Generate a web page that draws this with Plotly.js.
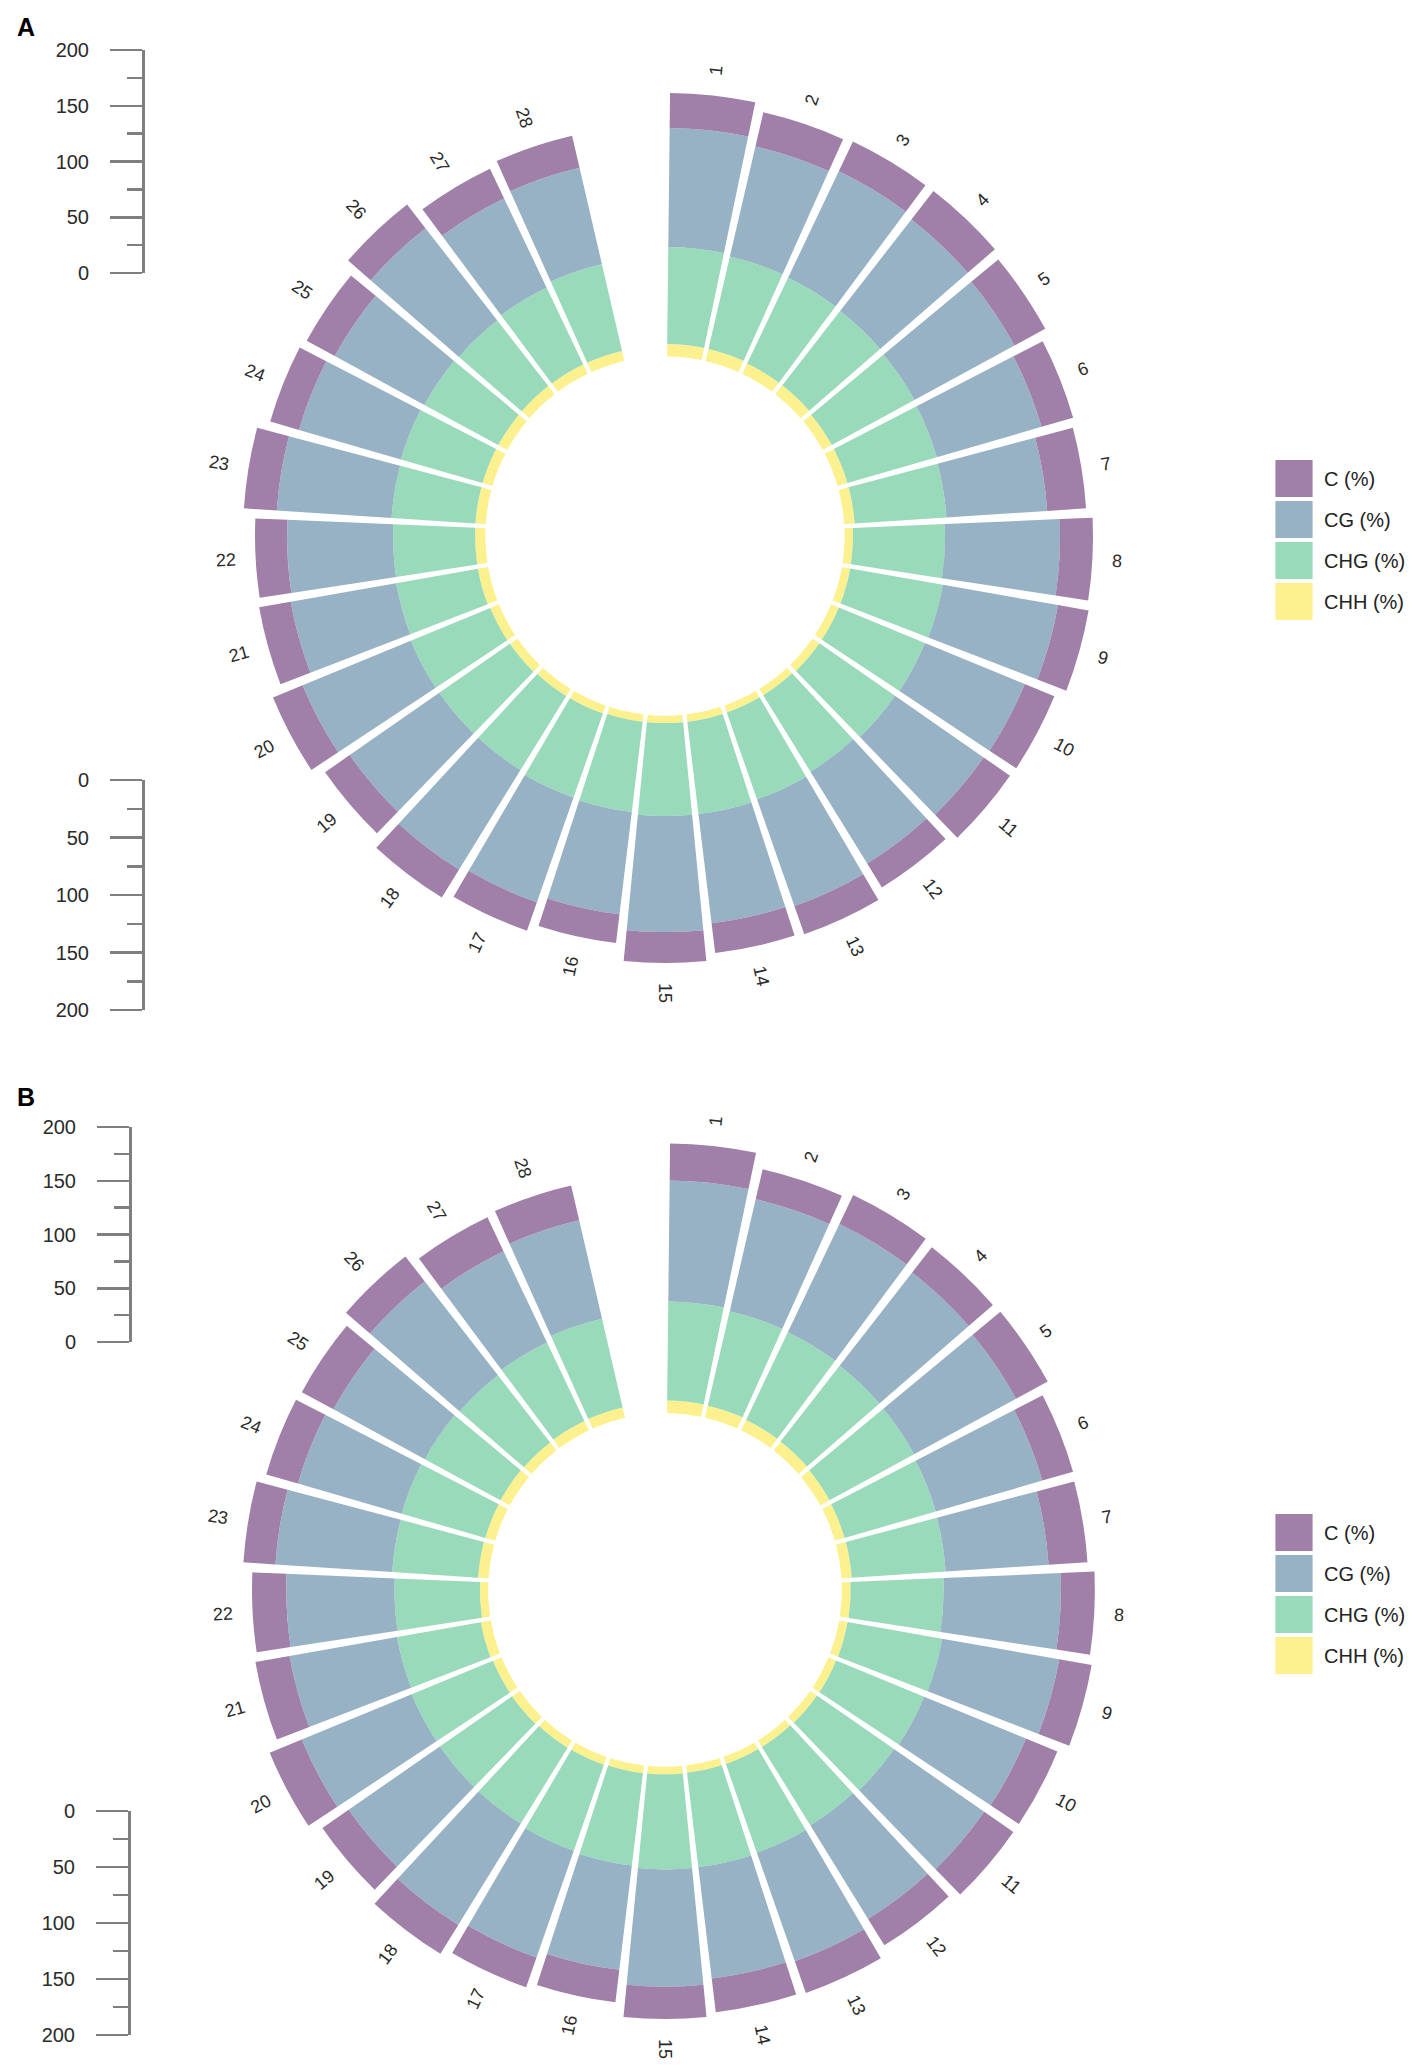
<!DOCTYPE html>
<html>
<head>
<meta charset="utf-8">
<script src="https://cdn.plot.ly/plotly-3.0.1.min.js"></script>
<style>
  html, body { margin: 0; padding: 0; background: #ffffff; }
  #chart { width: 1421px; height: 2067px; }
</style>
</head>
<body>
<div id="chart"></div>
<script>
// ---------------- data ----------------
const categories = ['1','2','3','4','5','6','7','8','9','10','11','12','13','14',
                    '15','16','17','18','19','20','21','22','23','24','25','26','27','28'];
const seriesNames = ['C (%)', 'CG (%)', 'CHG (%)', 'CHH (%)'];

// Panel A
const A_CHH = [11.0,11.0,10.1,10.1,9.2,9.2,9.2,7.5,7.5,7.5,7.5,6.6,6.6,6.6,6.6,6.6,7.5,7.5,8.3,8.3,9.2,9.2,9.2,9.2,9.2,9.2,9.2,9.2];
const A_CHG = [85.1,83.3,83.3,82.5,82.5,81.6,80.7,80.7,82.5,81.6,80.7,78.9,80.7,81.6,81.6,79.8,78.1,76.3,75.4,75.4,72.8,71.9,73.7,74.6,73.7,72.8,74.6,78.1];
const A_CG  = [104.4,99.1,103.5,101.8,100.0,95.6,88.6,100.9,102.6,94.7,94.7,94.7,99.1,96.5,101.8,90.4,97.4,102.6,95.6,102.6,93.9,93.0,100.9,93.0,89.5,102.6,86.8,86.8];
const A_C   = [30.7,30.7,28.9,31.6,30.7,28.9,34.2,28.9,27.2,28.1,28.1,24.6,26.3,26.3,27.2,25.4,26.3,28.9,26.3,28.1,28.1,28.1,28.9,26.3,28.1,26.3,28.9,28.9];

// Panel B
const B_CHH = [11.2,11.0,10.3,10.0,9.4,9.0,9.1,7.9,7.6,7.4,7.3,6.8,6.7,6.5,6.7,6.8,7.4,7.6,8.4,8.2,9.0,7.4,9.3,9.1,9.4,9.0,9.3,9.4];
const B_CHG = [86.9,85.0,85.1,84.3,84.4,83.3,82.6,81.5,84.2,83.4,82.3,80.8,82.4,83.3,83.4,81.6,79.9,78.2,77.2,77.1,74.6,74.9,75.5,76.4,75.5,74.6,76.3,79.9];
const B_CG  = [106.2,100.8,105.2,103.7,101.9,97.3,90.5,102.9,104.3,96.6,96.4,96.5,100.9,98.4,102.9,92.2,99.2,104.5,97.3,104.3,95.8,94.9,102.7,94.8,91.3,104.4,88.6,88.7];
const B_C   = [32.5,27.2,28.1,28.1,31.6,28.1,34.2,29.8,28.9,29.8,31.1,27.2,29.4,29.8,28.3,28.7,27.6,29.8,28.1,30.4,30.4,30.1,28.1,28.9,31.6,27.8,32.9,31.3];

// Radial scale legend ticks
const scaleTicks = [0, 50, 100, 150, 200];

// ---------------- styling / geometry ----------------
const W = 1421, H = 2067;
const FONT = 'Liberation Sans, Arial, Helvetica, sans-serif';
const colors = { 'C (%)': '#A07FA8', 'CG (%)': '#97B2C5', 'CHG (%)': '#99DABB', 'CHH (%)': '#FDF18F' };
const K = 1.14;        // px per data unit
const R = 470;         // outer radius of the polar area in px
const nSlots = categories.length + 1;   // one empty slot leaves the gap at the top
const slot = 360 / nSlots;
const barWidth = slot * 0.895;
const thetas = categories.map((c, i) => (i + 0.5) * slot);

const panels = [
  { id: 'A', cx: 665, cy: 536,  inner: 179.5, polar: 'polar',  ax: 5, legend: 'legend',
    data: { 'CHH (%)': A_CHH, 'CHG (%)': A_CHG, 'CG (%)': A_CG, 'C (%)': A_C },
    scales: [ { x: 145, y0: 273, y1: 50, rev: false }, { x: 145, y0: 780, y1: 1010, rev: true } ],
    legendY: 540, labelY: 27 },
  { id: 'B', cx: 665, cy: 1590, inner: 176.7, polar: 'polar2', ax: 6, legend: 'legend2',
    data: { 'CHH (%)': B_CHH, 'CHG (%)': B_CHG, 'CG (%)': B_CG, 'C (%)': B_C },
    scales: [ { x: 132, y0: 1342, y1: 1127, rev: false }, { x: 131, y0: 1811, y1: 2035, rev: true } ],
    legendY: 1594, labelY: 1097 }
];

const px2x = v => v / W;
const px2y = v => 1 - v / H;

const traces = [];
const layout = {
  width: W, height: H,
  margin: { l: 0, r: 0, t: 0, b: 0 },
  paper_bgcolor: '#ffffff', plot_bgcolor: 'rgba(0,0,0,0)',
  font: { family: FONT, color: '#333333' },
  showlegend: true,
  annotations: []
};

let axisCounter = 1;
panels.forEach(p => {
  // stacked polar bars: inner -> outer
  const order = ['CHH (%)', 'CHG (%)', 'CG (%)', 'C (%)'];
  order.forEach(name => {
    traces.push({
      type: 'barpolar',
      name: name,
      subplot: p.polar,
      legend: p.legend,
      legendgroup: p.id + name,
      legendrank: seriesNames.indexOf(name) + 1,
      r: p.data[name],
      theta: thetas,
      width: barWidth,
      text: categories,
      hovertemplate: 'Sample %{text}<br>' + name + ': %{r}<extra></extra>',
      marker: { color: colors[name], line: { width: 0 } }
    });
  });

  const rmax = (R - p.inner) / K;
  layout[p.polar] = {
    domain: { x: [px2x(p.cx - R), px2x(p.cx + R)], y: [px2y(p.cy + R), px2y(p.cy - R)] },
    hole: p.inner / R,
    bgcolor: 'rgba(0,0,0,0)',
    barmode: 'stack',
    radialaxis: { range: [0, rmax], showline: false, showticklabels: false, showgrid: false, ticks: '' },
    angularaxis: { direction: 'clockwise', rotation: 90, thetaunit: 'degrees',
                   showline: false, showticklabels: false, showgrid: false, ticks: '' }
  };

  // overlay cartesian frame (px units around the centre) for the bar labels
  const xa = 'xaxis' + p.ax, ya = 'yaxis' + p.ax;
  layout[xa] = { domain: [px2x(p.cx - R), px2x(p.cx + R)], range: [-R, R], visible: false, fixedrange: true, anchor: 'y' + p.ax };
  layout[ya] = { domain: [px2y(p.cy + R), px2y(p.cy - R)], range: [-R, R], visible: false, fixedrange: true, anchor: 'x' + p.ax };
  traces.push({ type: 'scatter', x: [], y: [], xaxis: 'x' + p.ax, yaxis: 'y' + p.ax, showlegend: false, hoverinfo: 'skip' });

  categories.forEach((c, i) => {
    const total = order.reduce((s, n) => s + p.data[n][i], 0);
    const rl = p.inner + total * K + 20 + 5 * c.length;
    const th = thetas[i];
    const rad = th * Math.PI / 180;
    const ang = th <= 180.0001 ? th - 90 : th - 270;
    layout.annotations.push({
      xref: 'x' + p.ax, yref: 'y' + p.ax,
      x: rl * Math.sin(rad), y: rl * Math.cos(rad),
      text: c, showarrow: false, textangle: ang,
      xanchor: 'center', yanchor: 'middle',
      font: { family: FONT, size: 18, color: '#2a2a2a' }
    });
  });

  // radial scale bars on the left
  p.scales.forEach(s => {
    const n = axisCounter++;
    const xk = n === 1 ? 'xaxis' : 'xaxis' + n;
    const yk = n === 1 ? 'yaxis' : 'yaxis' + n;
    const top = Math.min(s.y0, s.y1), bot = Math.max(s.y0, s.y1);
    layout[xk] = { domain: [px2x(s.x), px2x(s.x + 4)], range: [0, 1], visible: false, fixedrange: true, anchor: n === 1 ? 'y' : 'y' + n };
    layout[yk] = {
      domain: [px2y(bot), px2y(top)],
      anchor: n === 1 ? 'x' : 'x' + n,
      range: s.rev ? [200, 0] : [0, 200],
      side: 'left',
      tickmode: 'array', tickvals: scaleTicks, ticktext: scaleTicks.map(String),
      ticks: 'outside', ticklen: 32, tickwidth: 2.5, tickcolor: '#7f7f7f',
      minor: { ticks: 'outside', ticklen: 15, tickwidth: 2.5, tickcolor: '#7f7f7f', tickmode: 'array', tickvals: [25, 75, 125, 175] },
      showline: true, linecolor: '#7f7f7f', linewidth: 3,
      showgrid: false, zeroline: false, fixedrange: true,
      ticklabelstandoff: 17,
      tickfont: { family: FONT, size: 20, color: '#2a2a2a' }
    };
    traces.push({ type: 'scatter', x: [], y: [], xaxis: n === 1 ? 'x' : 'x' + n, yaxis: n === 1 ? 'y' : 'y' + n, showlegend: false, hoverinfo: 'skip' });
  });

  // legend for the panel
  layout[p.legend] = {
    x: px2x(1264), xanchor: 'left',
    y: px2y(p.legendY), yanchor: 'middle',
    traceorder: 'grouped',
    tracegroupgap: 12,
    itemwidth: 50,
    bgcolor: 'rgba(0,0,0,0)', borderwidth: 0,
    font: { family: FONT, size: 20, color: '#222222' }
  };

  // panel letter
  layout.annotations.push({
    xref: 'paper', yref: 'paper', x: px2x(26), y: px2y(p.labelY),
    xanchor: 'center', yanchor: 'middle', showarrow: false,
    text: '<b>' + p.id + '</b>',
    font: { family: FONT, size: 25, color: '#000000' }
  });
});

Plotly.newPlot('chart', traces, layout, { displayModeBar: false, staticPlot: true }).then(gd => {
  // enlarge the legend keys to the large squares of the original figure
  gd.querySelectorAll('.legendpoints path').forEach(el => {
    const t = el.getAttribute('transform') || '';
    el.setAttribute('transform', t + ' scale(3.1)');
  });
  gd.querySelectorAll('g.legend .scrollbox, g.legend2 .scrollbox').forEach(el => {
    el.removeAttribute('clip-path');
  });
});
</script>
</body>
</html>
